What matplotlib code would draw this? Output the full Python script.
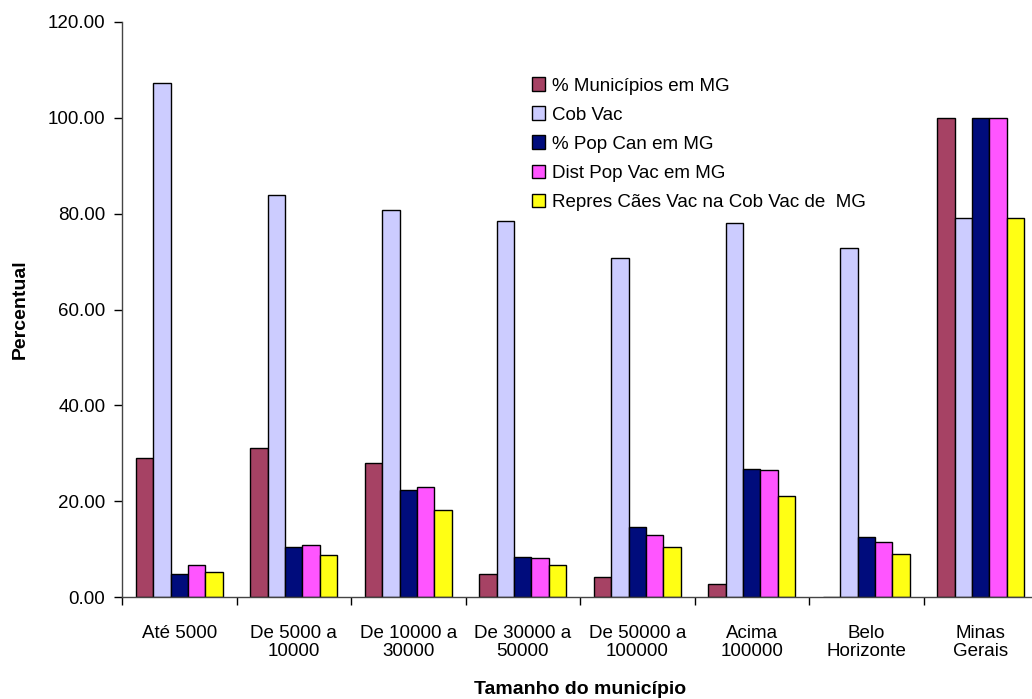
import numpy as np
import matplotlib
matplotlib.use("Agg")
import matplotlib.pyplot as plt
from matplotlib.ticker import FormatStrFormatter, FixedLocator

plt.rcParams['font.family'] = ['Liberation Sans', 'DejaVu Sans']

categories = ["Até 5000", "De 5000 a\n10000", "De 10000 a\n30000", "De 30000 a\n50000",
              "De 50000 a\n100000", "Acima\n100000", "Belo\nHorizonte", "Minas\nGerais"]

series_names = ["% Municípios em MG", "Cob Vac", "% Pop Can em MG",
                "Dist Pop Vac em MG", "Repres Cães Vac na Cob Vac de  MG"]

pct_municipios = [29.0, 31.1, 28.0, 4.8, 4.2, 2.7, 0.0, 100.0]
cob_vac = [107.2, 84.0, 80.8, 78.4, 70.7, 78.1, 72.8, 79.0]
pct_pop_can = [4.9, 10.4, 22.4, 8.3, 14.7, 26.7, 12.6, 100.0]
dist_pop_vac = [6.7, 10.9, 22.9, 8.2, 13.0, 26.5, 11.5, 100.0]
repres_caes = [5.3, 8.8, 18.2, 6.7, 10.4, 21.1, 9.0, 79.0]

colors = ["#A64264", "#CCCCFF", "#000C7C", "#FF55FF", "#FFFF14"]

series = [pct_municipios, cob_vac, pct_pop_can, dist_pop_vac, repres_caes]

fig = plt.figure(figsize=(10.32, 6.99), dpi=100)
ax = fig.add_axes([122 / 1032, 1 - 597 / 699, 916 / 1032, 575 / 699])

x = np.arange(len(categories))
width = 0.152
for i, (vals, name, col) in enumerate(zip(series, series_names, colors)):
    offs = (i - 2) * width
    ax.bar(x + offs, vals, width, color=col, edgecolor="black", linewidth=1.0,
           label=name, zorder=2)

ax.set_xlim(-0.5, len(categories) - 0.5)
ax.set_ylim(0, 120)
ax.set_yticks(np.arange(0, 121, 20))
ax.yaxis.set_major_formatter(FormatStrFormatter("%.2f"))

ax.set_xticks(x)
ax.set_xticklabels(categories, fontsize=13.5, linespacing=1.1)
ax.tick_params(axis="x", which="major", length=0, pad=20)
ax.xaxis.set_minor_locator(FixedLocator(np.arange(-0.5, len(categories), 1.0)))
ax.tick_params(axis="x", which="minor", length=6, direction="out", width=1)
ax.tick_params(axis="y", length=6, direction="out", labelsize=13.5, width=1, pad=6)

for s in ["top", "right"]:
    ax.spines[s].set_visible(False)
for s in ["left", "bottom"]:
    ax.spines[s].set_linewidth(1.0)
    ax.spines[s].set_color("#444444")

ax.set_ylabel("Percentual", fontsize=14, fontweight="bold", labelpad=14)
ax.set_xlabel("Tamanho do município", fontsize=14, fontweight="bold", labelpad=15)

ax.legend(loc="upper left", bbox_to_anchor=(0.437, 0.92), frameon=False,
          fontsize=13.5, handlelength=0.72, handleheight=0.72, handletextpad=0.35,
          labelspacing=0.63, borderpad=0)

fig.savefig("out.png", dpi=100)
